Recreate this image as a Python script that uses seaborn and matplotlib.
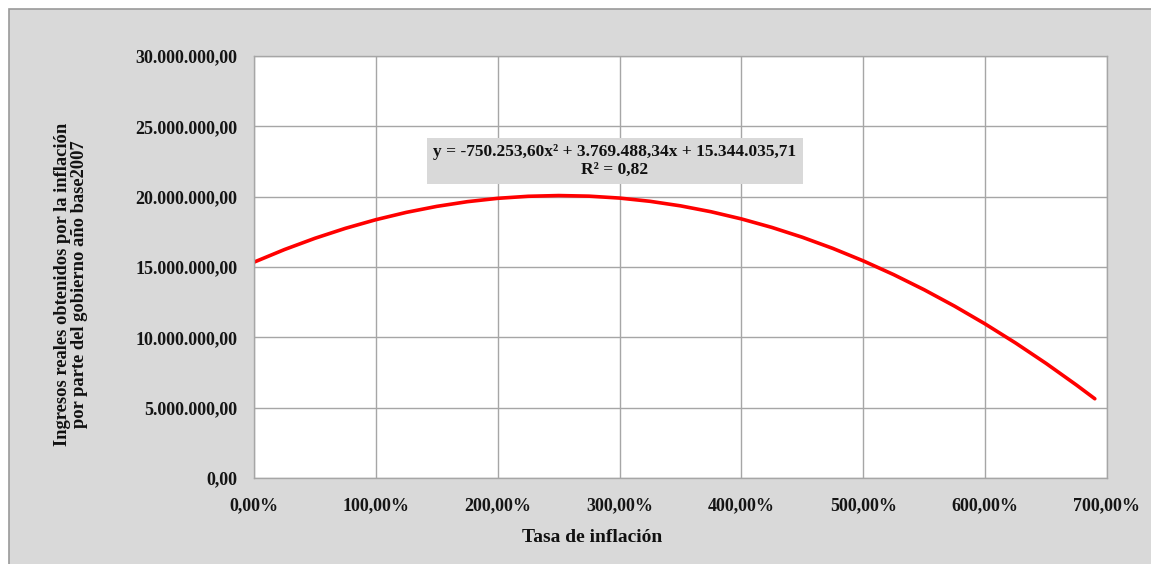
import numpy as np
import pandas as pd
import matplotlib
matplotlib.use('Agg')
import matplotlib.pyplot as plt
from matplotlib.patches import Rectangle
from matplotlib.ticker import FuncFormatter
import seaborn as sns

# Values (inflation rate as fraction, revenue in units)
tasa = [0.0, 0.25, 0.5, 0.75, 1.0, 1.25, 1.5, 1.75, 2.0, 2.25, 2.5, 2.75, 3.0, 3.25,
        3.5, 3.75, 4.0, 4.25, 4.5, 4.75, 5.0, 5.25, 5.5, 5.75, 6.0, 6.25, 6.5, 6.75, 6.9]
ingresos = [15344000, 16240000, 17041000, 17749000, 18363000, 18884000, 19310000,
            19643000, 19882000, 20027000, 20079000, 20036000, 19900000, 19670000,
            19347000, 18929000, 18418000, 17813000, 17114000, 16322000, 15435000,
            14455000, 13381000, 12213000, 10952000, 9597000, 8147000, 6605000, 5634000]
ecuacion = 'y = -750.253,60x² + 3.769.488,34x + 15.344.035,71\nR² = 0,82'

df = pd.DataFrame({'Tasa': tasa, 'Ingresos': ingresos})

sns.set_style('white')
plt.rcParams['font.family'] = ['Liberation Serif', 'DejaVu Serif']
plt.rcParams['font.weight'] = 'bold'

W, H = 1151, 564
fig = plt.figure(figsize=(W / 100, H / 100), dpi=100)
fig.patch.set_facecolor('white')
fig.patches.append(Rectangle((9 / W, -0.05), 1.0, 1.05 - 9 / H, transform=fig.transFigure,
                             facecolor='#d9d9d9', edgecolor='#9a9a9a', linewidth=1.2,
                             zorder=-10))

ax = fig.add_axes([254 / W, 1 - 478 / H, (1107 - 254) / W, (478 - 56) / H])
ax.set_facecolor('white')
ax.set_zorder(5)

sns.lineplot(data=df, x='Tasa', y='Ingresos', ax=ax, color='#ff0000', linewidth=2.6)

ax.set_xlim(0, 7)
ax.set_ylim(0, 30000000)
ax.set_xticks(np.arange(0, 8, 1))
ax.set_yticks(np.arange(0, 30000001, 5000000))


def fmt_y(v, pos):
    s = f'{v:,.2f}'
    return s.replace(',', 'X').replace('.', ',').replace('X', '.')


def fmt_x(v, pos):
    return f'{v * 100:,.2f}%'.replace('.', ',')


ax.yaxis.set_major_formatter(FuncFormatter(fmt_y))
ax.xaxis.set_major_formatter(FuncFormatter(fmt_x))
ax.grid(True, color='#a6a6a6', linewidth=1.0)
for sp in ax.spines.values():
    sp.set_color('#a6a6a6')
    sp.set_linewidth(1.0)
ax.tick_params(axis='both', which='both', direction='out', length=5, width=1,
               color='#a6a6a6', labelsize=13, labelcolor='#151515')
ax.tick_params(axis='x', pad=9)
ax.tick_params(axis='y', pad=7)
for lab in ax.get_xticklabels() + ax.get_yticklabels():
    lab.set_fontweight('bold')

ax.set_xlabel('')
ax.set_ylabel('')

fig.text(592 / W, 1 - 537 / H, 'Tasa de inflación', ha='center', va='center',
         fontsize=14, fontweight='bold', color='#111111')
fig.text(71 / W, 1 - 284 / H,
         'Ingresos reales obtenidos por la inflación\npor parte del gobierno año base2007',
         ha='center', va='center', rotation=90, fontsize=13.3, fontweight='bold',
         color='#111111', linespacing=1.0)

fig.text(615 / W, 1 - 161 / H, ecuacion, ha='center', va='center', fontsize=12.5,
         fontweight='bold', color='#111111', linespacing=1.2, zorder=10,
         bbox=dict(boxstyle='square,pad=0.35', facecolor='#d9d9d9', edgecolor='none'))

fig.savefig('out.png', dpi=100)
